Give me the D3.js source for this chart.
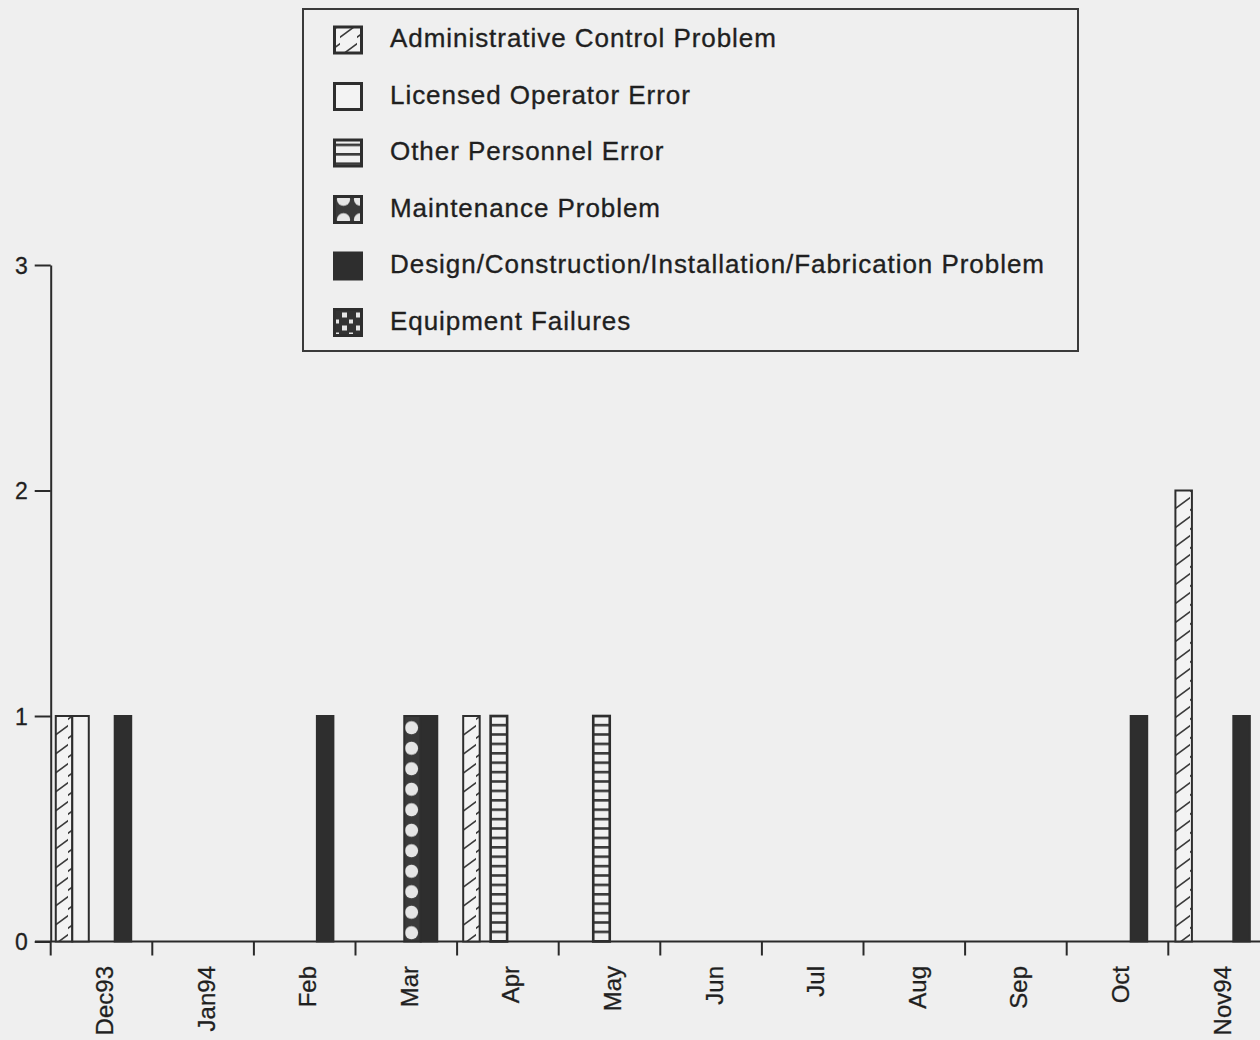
<!DOCTYPE html>
<html>
<head>
<meta charset="utf-8">
<script src="https://cdn.jsdelivr.net/npm/d3@7"></script>
<style>
  html, body { margin: 0; padding: 0; background: #efefef; }
  svg { display: block; }
  text { font-family: "Liberation Sans", Arial, Helvetica, sans-serif; fill: #1f1f1f; }
</style>
</head>
<body>
<svg id="chart" width="1260" height="1040"></svg>
<script>
// ---------------- data ----------------
const months = ["Dec93", "Jan94", "Feb", "Mar", "Apr", "May", "Jun", "Jul", "Aug", "Sep", "Oct", "Nov94"];
const categories = [
  "Administrative Control Problem",
  "Licensed Operator Error",
  "Other Personnel Error",
  "Maintenance Problem",
  "Design/Construction/Installation/Fabrication Problem",
  "Equipment Failures"
];
const yTicks = [0, 1, 2, 3];
// event groups: month, position within the month (fraction), categories reported and counts
const groupMonth = ["Dec93", "Dec93", "Feb", "Mar", "Apr", "Apr", "May", "Oct", "Nov94", "Nov94"];
const groupOffset = [0.05, 0.63, 0.62, 0.48, 0.06, 0.33, 0.34, 0.63, 0.07, 0.64];
const groupCategories = [
  ["Administrative Control Problem", "Licensed Operator Error"],
  ["Design/Construction/Installation/Fabrication Problem"],
  ["Design/Construction/Installation/Fabrication Problem"],
  ["Maintenance Problem", "Design/Construction/Installation/Fabrication Problem"],
  ["Administrative Control Problem"],
  ["Other Personnel Error"],
  ["Other Personnel Error"],
  ["Design/Construction/Installation/Fabrication Problem"],
  ["Administrative Control Problem"],
  ["Design/Construction/Installation/Fabrication Problem"]
];
const groupValues = [[1, 1], [1], [1], [1, 1], [1], [1], [1], [1], [2], [1]];

// ---------------- layout ----------------
const svg = d3.select("#chart");
const BG = "#efefef", INK = "#2a2a2a";
const x = d3.scaleBand().domain(months).range([50.7, 1269.9]).paddingInner(0).paddingOuter(0);
const y = d3.scaleLinear().domain([0, 3]).range([941.5, 265]);
const barW = 16.5;

svg.append("rect").attr("width", 1260).attr("height", 1040).attr("fill", BG);

// ---------------- patterns ----------------
const defs = svg.append("defs");
const fills = {};
// administrative: diagonal hatch
let p = defs.append("pattern").attr("id", "pAdmin").attr("patternUnits", "userSpaceOnUse")
  .attr("width", 17).attr("height", 19);
p.append("rect").attr("width", 17).attr("height", 19).attr("fill", "#f3f3f3");
p.append("path").attr("d", "M-1,17 L18,3").attr("stroke", "#3a3a3a").attr("stroke-width", 1.5);
fills[categories[0]] = "url(#pAdmin)";
// licensed: empty
fills[categories[1]] = "#f3f3f3";
// other personnel: horizontal rungs
p = defs.append("pattern").attr("id", "pOther").attr("patternUnits", "userSpaceOnUse")
  .attr("width", 10).attr("height", 9.4);
p.append("rect").attr("width", 10).attr("height", 9.4).attr("fill", "#f1f1f1");
p.append("rect").attr("y", 0).attr("width", 10).attr("height", 2.6).attr("fill", "#3a3a3a");
fills[categories[2]] = "url(#pOther)";
// maintenance: dark cross-hatch with light holes
p = defs.append("pattern").attr("id", "pMaint").attr("patternUnits", "userSpaceOnUse")
  .attr("width", 17).attr("height", 20.5).attr("x", 404).attr("y", 0);
p.append("rect").attr("width", 17).attr("height", 20.5).attr("fill", "#3a3a3a");
p.append("circle").attr("cx", 7.5).attr("cy", 10.25).attr("r", 6.6).attr("fill", "#e6e6e6");
fills[categories[3]] = "url(#pMaint)";
// design: solid dark
fills[categories[4]] = "#2e2e2e";
// equipment: dark with light squares
p = defs.append("pattern").attr("id", "pEquip").attr("patternUnits", "userSpaceOnUse")
  .attr("width", 14).attr("height", 13).attr("x", 334).attr("y", 308);
p.append("rect").attr("width", 14).attr("height", 13).attr("fill", "#333");
p.append("rect").attr("x", 1).attr("y", 1).attr("width", 4).attr("height", 4).attr("fill", "#e6e6e6");
p.append("rect").attr("x", 8).attr("y", 7).attr("width", 5).attr("height", 5).attr("fill", "#e6e6e6");
fills[categories[5]] = "url(#pEquip)";

// ---------------- axes ----------------
const yAxis = d3.axisLeft(y).tickValues(yTicks).tickSize(16).tickSizeOuter(0).tickPadding(7)
  .tickFormat(d3.format("d"));
const gy = svg.append("g").attr("transform", "translate(50.7,0)").call(yAxis);
gy.select(".domain").attr("stroke", INK).attr("stroke-width", 2);
gy.selectAll(".tick line").attr("stroke", INK).attr("stroke-width", 2);
gy.selectAll(".tick text").style("font-size", "23px").attr("fill", "#1f1f1f").attr("dy", "0.36em")
  .attr("stroke", "#1f1f1f").attr("stroke-width", 0.3);

// x axis baseline
svg.append("line").attr("x1", 35).attr("x2", 1260).attr("y1", y(0)).attr("y2", y(0))
  .attr("stroke", INK).attr("stroke-width", 2);
// month boundary ticks
const xAxis = d3.axisBottom(x).tickSize(14).tickSizeOuter(0).tickFormat("");
const gx = svg.append("g").attr("transform", `translate(0,${y(0)})`).call(xAxis);
gx.select(".domain").remove();
gx.selectAll(".tick").attr("transform", d => `translate(${x(d)},0)`);
gx.selectAll(".tick line").attr("stroke", INK).attr("stroke-width", 2);
// month labels (rotated)
svg.append("g").selectAll("text").data(months).join("text")
  .attr("transform", d => `translate(${x(d) + x.bandwidth() / 2 + 3},966) rotate(-90)`)
  .attr("text-anchor", "end").attr("dy", "0.35em")
  .style("font-size", "24px")
  .attr("stroke", "#1f1f1f").attr("stroke-width", 0.3)
  .text(d => d);

// ---------------- bars ----------------
const bars = [];
groupMonth.forEach((m, i) => {
  groupCategories[i].forEach((c, j) => {
    bars.push({ month: m, offset: groupOffset[i], slot: j, category: c, value: groupValues[i][j] });
  });
});
svg.append("g").selectAll("rect").data(bars).join("rect")
  .attr("x", d => x(d.month) + d.offset * x.bandwidth() + d.slot * barW)
  .attr("y", d => y(d.value))
  .attr("width", barW)
  .attr("height", d => y(0) - y(d.value))
  .attr("fill", d => fills[d.category])
  .attr("stroke", "#2e2e2e")
  .attr("stroke-width", d => d.category === categories[2] ? 2.6 : 2);

// ---------------- legend ----------------
const lg = svg.append("g");
lg.append("rect").attr("x", 303).attr("y", 9).attr("width", 775).attr("height", 342)
  .attr("fill", "none").attr("stroke", "#3a3a3a").attr("stroke-width", 2);
const li = lg.selectAll("g.item").data(categories).join("g").attr("class", "item")
  .attr("transform", (d, i) => `translate(0,${40 + i * 56.5})`);
li.append("rect").attr("x", 334.5).attr("y", -13).attr("width", 27).attr("height", 26)
  .attr("fill", d => fills[d]).attr("stroke", "#2e2e2e").attr("stroke-width", 3);
li.append("text").attr("x", 390).attr("y", 7)
  .style("font-size", "26px").style("letter-spacing", "0.95px")
  .attr("stroke", "#1f1f1f").attr("stroke-width", 0.35)
  .text(d => d);
</script>
</body>
</html>
